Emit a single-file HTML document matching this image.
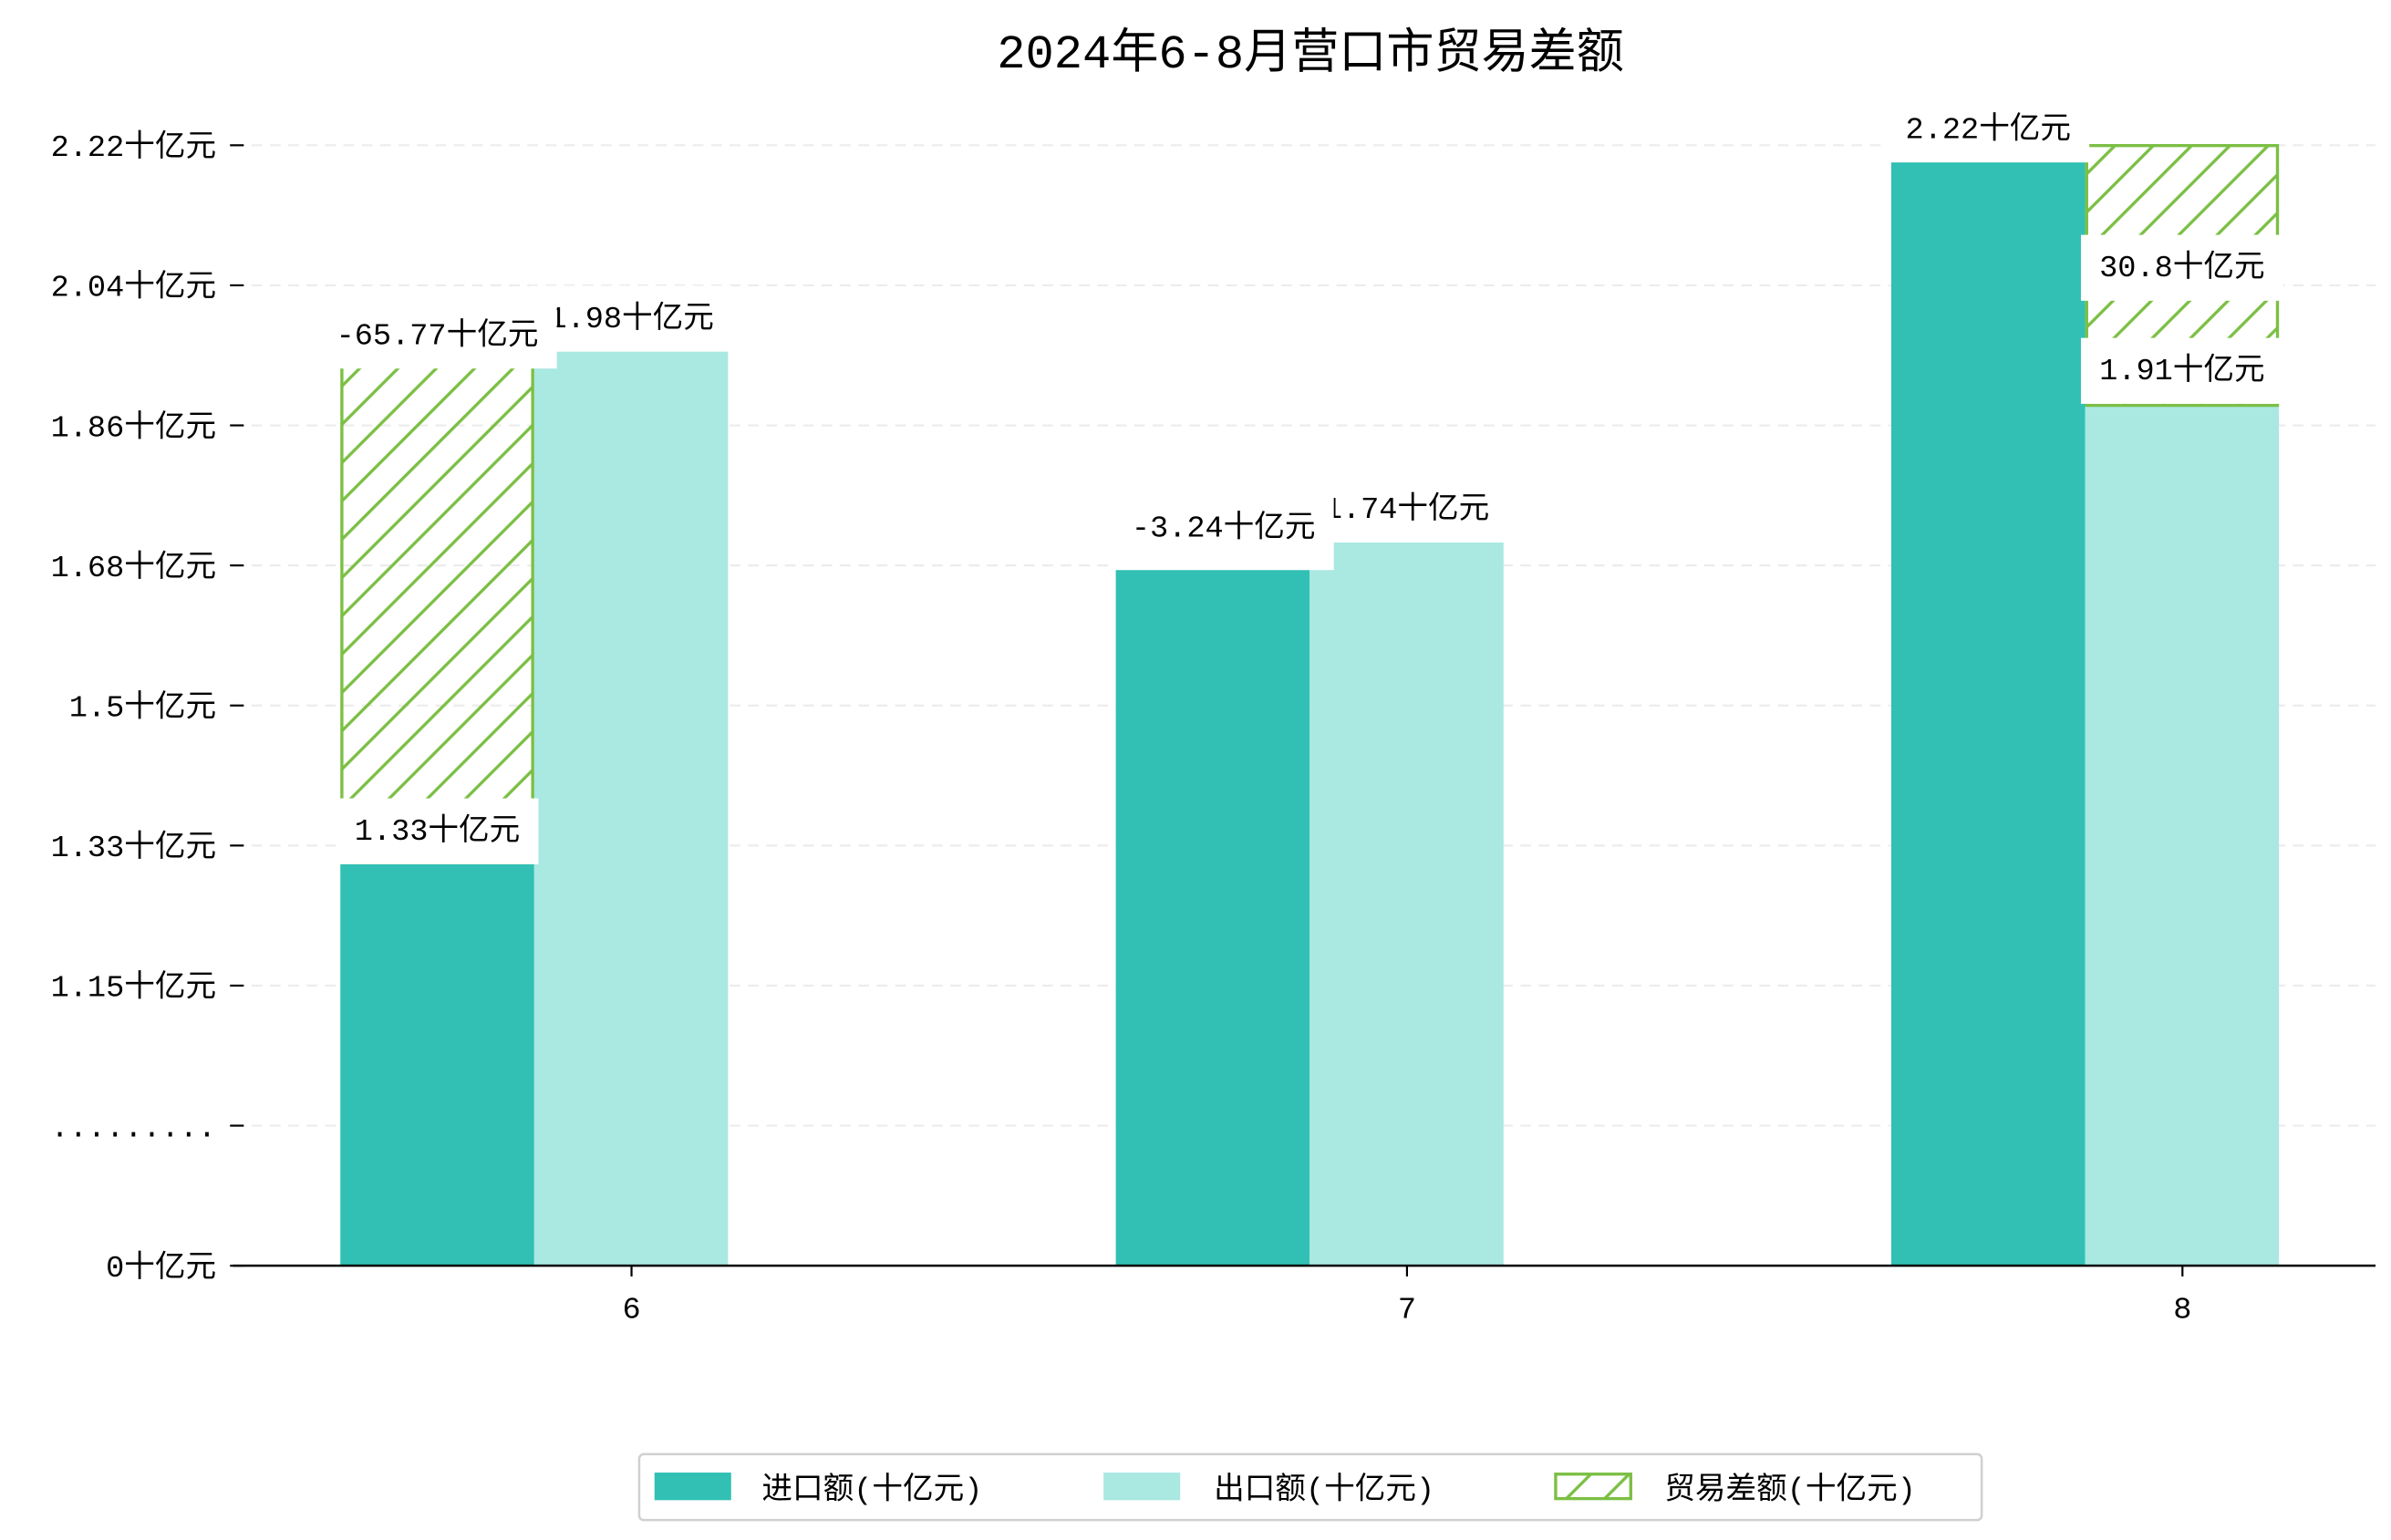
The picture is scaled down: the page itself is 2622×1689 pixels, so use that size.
<!DOCTYPE html>
<html><head><meta charset="utf-8"><style>
html,body{margin:0;padding:0;background:#fff;}
svg{display:block;font-family:"Liberation Mono","WenQuanYi Zen Hei","Noto Sans CJK SC",monospace;}
</style></head><body>
<svg id="chart" width="2622" height="1689" viewBox="0 0 1560 1005" xmlns="http://www.w3.org/2000/svg">
<defs>
<pattern id="hatch" patternUnits="userSpaceOnUse" width="25" height="25">
<path d="M0,25 L25,0 M-6,6 L6,-6 M19,31 L31,19" stroke="#7bbf44" stroke-width="2" fill="none"/>
</pattern>
</defs>
<rect x="0" y="0" width="1560" height="1005" fill="#fff"/>
<text x="855" y="44" font-size="31" text-anchor="middle" fill="#000">2024年6-8月营口市贸易差额</text>
<g id="grid"></g><g id="bars"></g><g id="labels"></g><g id="axes"></g>
<g>
<rect x="417" y="949" width="876" height="43" rx="3" fill="#fff" stroke="#d0d0d0" stroke-width="1.5"/>
<rect x="427" y="961" width="50" height="18" fill="#31c0b3"/>
<text x="497" y="978" font-size="20">进口额(十亿元)</text>
<rect x="720" y="961" width="50" height="18" fill="#aae8e2"/>
<text x="792" y="978" font-size="20">出口额(十亿元)</text>
<rect x="1015" y="962" width="49" height="16" fill="url(#hatch)" stroke="#7bbf44" stroke-width="2"/>
<text x="1086" y="978" font-size="20">贸易差额(十亿元)</text>
</g>
</svg>
<script>
const months = ["6", "7", "8"];
const importVals = [1.33, 1.705, 2.22];
const exportVals = [1.98, 1.738, 1.91];
const importLabels = ["1.33十亿元", "1.71十亿元", "2.22十亿元"];
const exportLabels = ["1.98十亿元", "1.74十亿元", "1.91十亿元"];
const balanceLabels = ["-65.77十亿元", "-3.24十亿元", "30.8十亿元"];
const yTickLabels = ["0十亿元", ".........", "1.15十亿元", "1.33十亿元", "1.5十亿元", "1.68十亿元", "1.86十亿元", "2.04十亿元", "2.22十亿元"];

const NS = "http://www.w3.org/2000/svg";
const baseY = 826, pxPerUnit = 514.6, v0 = 1.33 - (826 - 563) / 514.6;
function yScale(v) { return baseY - (v - v0) * pxPerUnit; }
function xCenter(i) { return 412 + i * 506; }
function tickY(i) { return 826 - i * 91.4; }
const barW = 126.5;

function mk(tag, attrs, parent) {
  const e = document.createElementNS(NS, tag);
  for (const k in attrs) e.setAttribute(k, attrs[k]);
  parent.appendChild(e);
  return e;
}
const grid = document.getElementById("grid");
const bars = document.getElementById("bars");
const labels = document.getElementById("labels");
const axes = document.getElementById("axes");

yTickLabels.forEach((t, i) => {
  const y = tickY(i);
  if (i > 0) {
    const g = mk("line", {x1: 152, x2: 1550, y1: y, y2: y, stroke: "#ececec", "stroke-width": 1.3, "stroke-dasharray": "7,5"}, grid);
    
    
  }
  const tk = mk("line", {x1: 150, x2: 159, y1: y, y2: y, stroke: "#000", "stroke-width": 1.3}, axes);
  
  
  const tx = mk("text", {x: 141, y: y + 7, "font-size": 20, "text-anchor": "end"}, axes);
  tx.textContent = t;
  
  
});

const queue = [];
months.forEach((m, i) => {
  const c = xCenter(i);
  const xi = c - 190, xe = c - 63.5;
  const yi = yScale(importVals[i]), ye = yScale(exportVals[i]);
  const bi = mk("rect", {x: xi, y: yi, width: barW, height: baseY - yi, fill: "#31c0b3"}, bars);
  
  
  const be = mk("rect", {x: xe, y: ye, width: barW, height: baseY - ye, fill: "#aae8e2"}, bars);
  
  
  const lowImport = importVals[i] < exportVals[i];
  const hx = lowImport ? xi : xe;
  const top = Math.min(yi, ye) - (lowImport ? 0 : 10), bot = Math.max(yi, ye);
  const hb = mk("rect", {x: hx + 1, y: top, width: barW - 2, height: bot - top, fill: "url(#hatch)", stroke: "#7bbf44", "stroke-width": 2}, bars);
  
  

  if (i === 0) {
    queue.push({t: exportLabels[i], x: xe + barW / 2, cy: ye - 22, n: 'export-value-label-' + m});
    queue.push({t: balanceLabels[i], x: xi + barW / 2, cy: ye - 11, n: 'balance-value-label-' + m});
    queue.push({t: importLabels[i], x: xi + barW / 2, cy: yi - 22, n: 'import-value-label-' + m});
  } else if (i === 1) {
    queue.push({t: exportLabels[i], x: xe + barW / 2, cy: ye - 22, n: 'export-value-label-' + m});
    queue.push({t: balanceLabels[i], x: xi + barW / 2 + 7, cy: yi - 27, n: 'balance-value-label-' + m, extra: 6});
  } else {
    queue.push({t: importLabels[i], x: xi + barW / 2, cy: yi - 22, n: 'import-value-label-' + m});
    queue.push({t: balanceLabels[i], x: xe + barW / 2, cy: (yi + ye) / 2 - 11.5, n: 'balance-value-label-' + m});
    queue.push({t: exportLabels[i], x: xe + barW / 2, cy: ye - 24, n: 'export-value-label-' + m});
  }
});
queue.forEach(o => {
  const bg = mk("rect", {x: 0, y: o.cy - 20, width: 10, height: 43 + (o.extra || 0), fill: "#fff"}, labels);
  
  
  const tx = mk("text", {x: o.x, y: o.cy + 7, "font-size": 20, "text-anchor": "middle"}, labels);
  tx.textContent = o.t;
  
  
  let w = 120;
  try { w = tx.getComputedTextLength(); } catch (e) {}
  bg.setAttribute("x", o.x - w / 2 - 12);
  bg.setAttribute("width", w + 24);
});

const ax = mk("line", {x1: 152, x2: 1550, y1: baseY, y2: baseY, stroke: "#000", "stroke-width": 1.5}, axes);


months.forEach((m, i) => {
  const c = xCenter(i);
  const tk = mk("line", {x1: c, x2: c, y1: baseY, y2: baseY + 7, stroke: "#000", "stroke-width": 1.3}, axes);
  
  
  const tx = mk("text", {x: c, y: 860, "font-size": 20, "text-anchor": "middle"}, axes);
  tx.textContent = m;
  
  
});
</script>
</body></html>
